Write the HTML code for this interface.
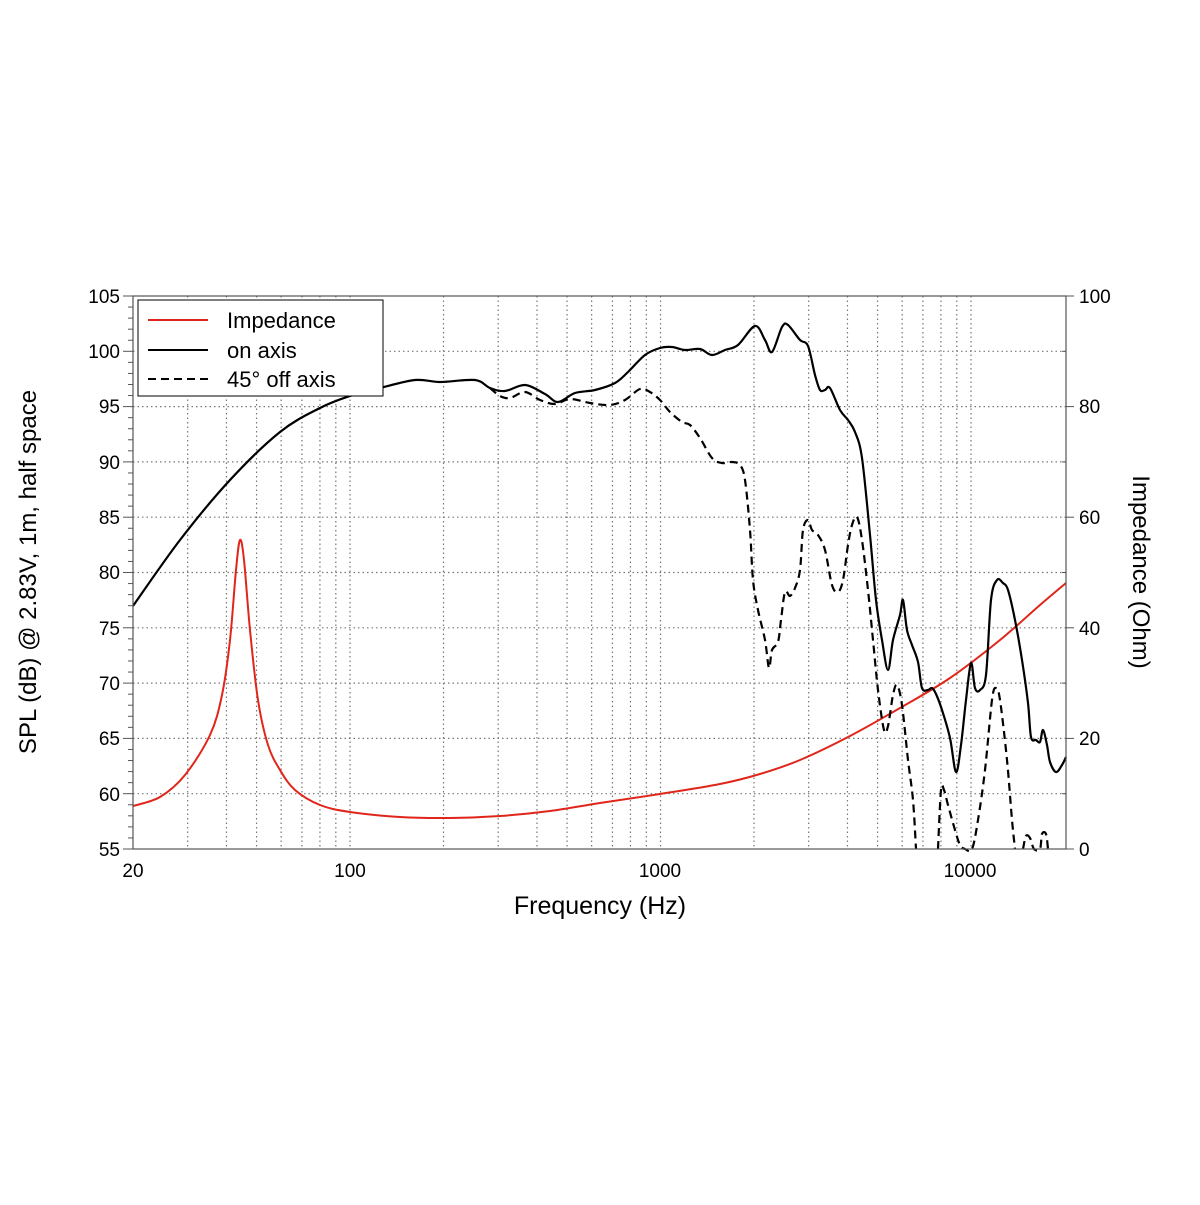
<!DOCTYPE html>
<html><head><meta charset="utf-8"><style>
html,body{margin:0;padding:0;background:#fff;}
svg text{font-family:"Liberation Sans",Arial,sans-serif;}
</style></head><body>
<svg id="s" width="1200" height="1200" xmlns="http://www.w3.org/2000/svg">
<rect width="1200" height="1200" fill="#fff"/>
<g id="grid"></g>
<g id="curves"></g>
<rect x="133" y="296" width="933" height="553" fill="none" stroke="#555" stroke-width="1.2"/>
<g id="ticks"></g>
<g font-size="19" fill="#000">
<text x="120" y="303" text-anchor="end">105</text>
<text x="120" y="358" text-anchor="end">100</text>
<text x="120" y="413" text-anchor="end">95</text>
<text x="120" y="469" text-anchor="end">90</text>
<text x="120" y="524" text-anchor="end">85</text>
<text x="120" y="579" text-anchor="end">80</text>
<text x="120" y="635" text-anchor="end">75</text>
<text x="120" y="690" text-anchor="end">70</text>
<text x="120" y="745" text-anchor="end">65</text>
<text x="120" y="801" text-anchor="end">60</text>
<text x="120" y="856" text-anchor="end">55</text>
<text x="1079" y="303">100</text>
<text x="1079" y="413">80</text>
<text x="1079" y="524">60</text>
<text x="1079" y="635">40</text>
<text x="1079" y="745">20</text>
<text x="1079" y="856">0</text>
<text x="133" y="877" text-anchor="middle">20</text>
<text x="350" y="877" text-anchor="middle">100</text>
<text x="660" y="877" text-anchor="middle">1000</text>
<text x="970" y="877" text-anchor="middle">10000</text>
</g>
<text x="600" y="914" font-size="25" text-anchor="middle">Frequency (Hz)</text>
<text transform="translate(36,572) rotate(-90)" font-size="24" text-anchor="middle">SPL (dB) @ 2.83V, 1m, half space</text>
<text transform="translate(1133,572) rotate(90)" font-size="24" text-anchor="middle">Impedance (Ohm)</text>
<rect x="138" y="300" width="245" height="96" fill="#fff" stroke="#000" stroke-width="1"/>
<line x1="148" y1="320" x2="208" y2="320" stroke="#e0261b" stroke-width="2"/>
<line x1="148" y1="350" x2="208" y2="350" stroke="#000" stroke-width="2"/>
<line x1="148" y1="379" x2="208" y2="379" stroke="#000" stroke-width="2" stroke-dasharray="8,5"/>
<g font-size="22"><text x="227" y="328">Impedance</text><text x="227" y="358">on axis</text><text x="227" y="387">45° off axis</text></g>
</svg>
<script>
var NS="http://www.w3.org/2000/svg";
function X(f){return 133+(Math.log10(f)-Math.log10(20))*310.5;}
function el(p,t,a){var e=document.createElementNS(NS,t);for(var k in a)e.setAttribute(k,a[k]);p.appendChild(e);return e;}
var g=document.getElementById('grid'),tk=document.getElementById('ticks');
var fs=[30,40,50,60,70,80,90];
[100,1000,10000].forEach(function(d){for(var m=1;m<10;m++)fs.push(d*m);});
fs.forEach(function(f){var x=X(f);if(x>1064)return;el(g,'line',{x1:x,y1:296,x2:x,y2:849,stroke:'#777','stroke-width':1.2,'stroke-dasharray':'1.5,3'});});
for(var v=60;v<=100;v+=5){var y=849-(v-55)*553/50;el(g,'line',{x1:133,y1:y,x2:1066,y2:y,stroke:'#777','stroke-width':1.2,'stroke-dasharray':'1.5,3'});}
for(var v=55;v<=105;v++){var y=849-(v-55)*553/50;el(tk,'line',{x1:v%5?128:123,y1:y,x2:133,y2:y,stroke:'#555','stroke-width':1});}
for(var o=0;o<=100;o+=10){var y=849-o*5.53;if(o%20==0)el(tk,'line',{x1:1066,y1:y,x2:1074,y2:y,stroke:'#555','stroke-width':1});else el(tk,'line',{x1:1062,y1:y,x2:1066,y2:y,stroke:'#555','stroke-width':1});}
function smooth(p){var d='M'+p[0][0]+','+p[0][1];for(var i=0;i<p.length-1;i++){var p0=p[i-1]||p[i],p1=p[i],p2=p[i+1],p3=p[i+2]||p2;var c1=[p1[0]+(p2[0]-p0[0])/6,p1[1]+(p2[1]-p0[1])/6],c2=[p2[0]-(p3[0]-p1[0])/6,p2[1]-(p3[1]-p1[1])/6];d+=' C'+c1+' '+c2+' '+p2;}return d;}
var c=document.getElementById('curves');
var red=[[133,806],[160,797],[185,775],[210,735],[222,695],[230,640],[236,570],[240,540],[244,560],[250,630],[258,700],[268,745],[280,770],[295,790],[320,805],[350,812],[400,817],[450,818],[500,816],[550,811],[600,803],[660,794],[720,784],[760,774],[800,760],[850,736],[900,708],[950,678],[1000,640],[1040,605],[1066,583]];
var solid=[[133,606],[180,540],[230,480],[280,432],[320,408],[350,396],[380,388],[415,380],[440,382],[475,380],[490,388],[505,391],[525,385],[545,394],[558,402],[575,393],[595,390],[615,383],[628,372],[645,355],[660,348],[672,347],[685,350],[700,349],[712,355],[725,350],[738,345],[755,326],[765,340],[772,352],[782,327],[788,325],[800,340],[808,346],[815,375],[820,390],[825,390],[830,388],[840,410],[848,420],[855,432],[862,458],[870,535],[876,600],[882,640],[888,670],[893,640],[900,615],[903,600],[907,630],[912,645],[918,662],[922,688],[928,690],[932,688],[936,694],[942,710],[950,738],[956,772],[961,745],[966,700],[971,663],[975,688],[980,690],[986,675],[991,600],[997,580],[1003,583],[1008,590],[1015,620],[1022,660],[1028,703],[1031,737],[1036,740],[1040,742],[1043,730],[1047,745],[1050,762],[1056,772],[1062,765],[1066,757]];
var dash=[[[490,388],[500,396],[510,398],[525,392],[540,400],[555,404],[570,399],[590,403],[610,405],[625,400],[640,389],[650,392],[660,400],[670,412],[682,422],[690,425],[700,438],[712,458],[722,463],[732,462],[740,465],[745,480],[750,530],[753,580],[758,610],[765,640],[769,668],[772,650],[778,642],[781,620],[785,592],[790,596],[795,588],[800,570],[803,530],[808,520],[812,530],[818,535],[825,550],[832,585],[838,592],[843,580],[848,545],[852,525],[857,517],[862,540],[868,590],[873,640],[878,690],[884,730],[888,726],[893,695],[897,685],[902,705],[908,760],[913,800],[916,849]],
[[938,849],[941,790],[944,790],[948,805],[955,830],[960,845],[965,849],[972,849],[978,820],[985,770],[992,700],[996,688],[1000,700],[1007,760],[1012,820],[1015,849]],
[[1023,849],[1026,836],[1030,838],[1034,849],[1040,849],[1042,834],[1046,834],[1048,849]]];
el(c,'path',{d:smooth(red),fill:'none',stroke:'#e0261b','stroke-width':2});
el(c,'path',{d:smooth(solid),fill:'none',stroke:'#000','stroke-width':2.2});
dash.forEach(function(p){el(c,'path',{d:smooth(p),fill:'none',stroke:'#000','stroke-width':2.2,'stroke-dasharray':'8,5'});});
</script>
</body></html>
